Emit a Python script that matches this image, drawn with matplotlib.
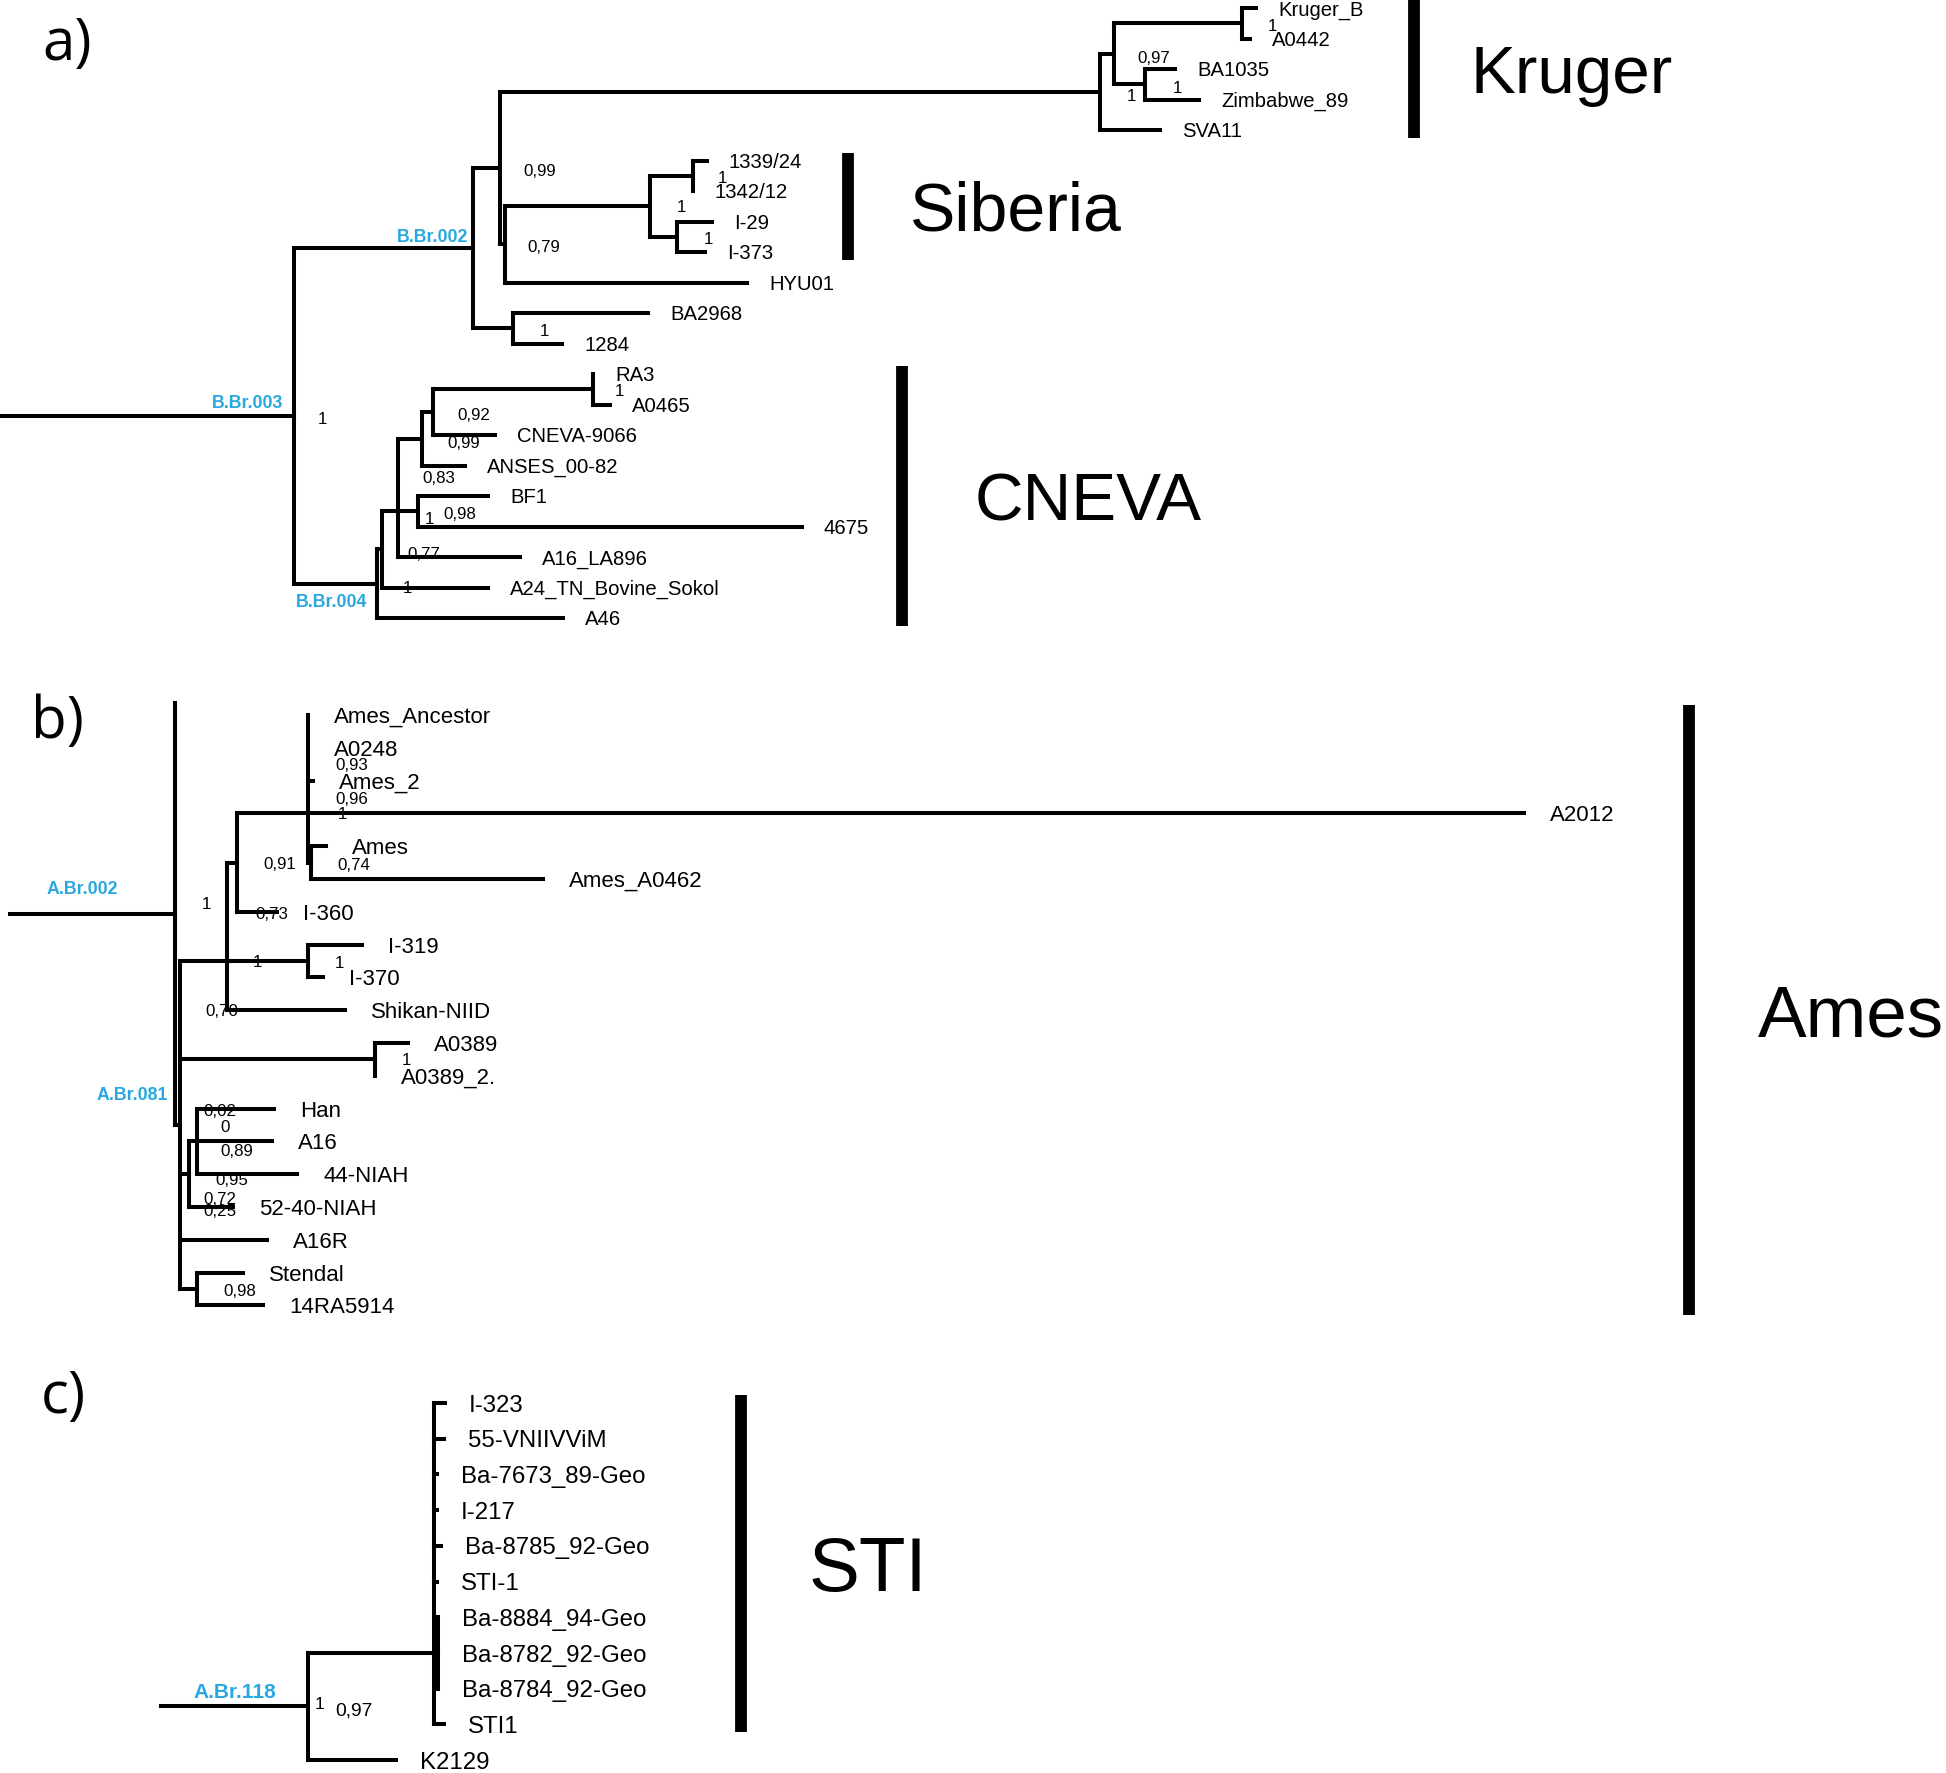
import matplotlib
matplotlib.use("Agg")
import matplotlib.pyplot as plt
from matplotlib.collections import LineCollection

W, H, DPI = 1946, 1773, 100
FONT = "Liberation Sans"
BLUE = "#29a8e0"

# ---------------- Panel a data ----------------
A_LEAVES = ["Kruger_B", "A0442", "BA1035", "Zimbabwe_89", "SVA11",
            "1339/24", "1342/12", "I-29", "I-373", "HYU01", "BA2968", "1284",
            "RA3", "A0465", "CNEVA-9066", "ANSES_00-82", "BF1", "4675",
            "A16_LA896", "A24_TN_Bovine_Sokol", "A46"]
A_ROWS = list(range(21))
A_TIP_X = [1256, 1250, 1175, 1199, 1160, 707, 693, 712, 705, 747, 648, 562,
           593, 610, 495, 465, 488, 802, 520, 488, 563]
# internal nodes: (name, depth, children, attach-child or None)
A_NODES = [
    ("B.Br.003", 294, ["B.Br.002", "B.Br.004"], None),
    ("B.Br.002", 473, ["n099", "nBA"], None),
    ("n099", 500, ["nKr", "n079"], None),
    ("nKr", 1100, ["nKr2", "SVA11"], None),
    ("nKr2", 1114, ["nKB", "nBZ"], None),
    ("nKB", 1242, ["Kruger_B", "A0442"], None),
    ("nBZ", 1145, ["BA1035", "Zimbabwe_89"], None),
    ("n079", 505, ["nSib", "HYU01"], None),
    ("nSib", 650, ["nS1", "nS2"], None),
    ("nS1", 693, ["1339/24", "1342/12"], None),
    ("nS2", 677, ["I-29", "I-373"], None),
    ("nBA", 513, ["BA2968", "1284"], None),
    ("B.Br.004", 377, ["nX", "A46"], None),
    ("nX", 382, ["nY", "A24_TN_Bovine_Sokol"], None),
    ("nY", 398, ["nZ", "nW", "A16_LA896"], "nW"),
    ("nZ", 422, ["nV", "ANSES_00-82"], None),
    ("nV", 433, ["nRA", "CNEVA-9066"], None),
    ("nRA", 593, ["RA3", "A0465"], None),
    ("nW", 418, ["BF1", "4675"], None),
]
A_ROOT, A_STEM_X = "B.Br.003", 0
A_SUP_NODES = ["nKB", "nKr2", "nKr", "nBZ", "n099", "n079", "nS1", "nSib", "nS2",
               "nBA", "B.Br.003", "nRA", "nV", "nZ", "nZ", "nW", "nW", "nY", "nX"]
A_SUP_VALUES = ["1", "0,97", "1", "1", "0,99", "0,79", "1", "1", "1",
                "1", "1", "1", "0,92", "0,99", "0,83", "1", "0,98", "0,77", "1"]
A_SUP_OFFSETS = [(26, 2), (23, 3), (27, 3), (28, 3), (23, 2), (22, 2), (25, 1), (27, 0), (27, 1),
                 (27, 2), (24, 2), (22, 1), (24, 2), (25, 3), (0, 38), (7, 7), (25, 2), (9, 42), (21, 38)]
A_BRANCH_LABELS = ["B.Br.003", "B.Br.002", "B.Br.004"]
A_BRANCH_OFFSETS = [(-11, -14), (-5, -13), (-10, 17)]
A_CLADES = ["Kruger", "Siberia", "CNEVA"]
A_CLADE_SPAN = [("Kruger_B", "SVA11"), ("1339/24", "I-373"), ("RA3", "A46")]
A_CLADE_BAR_X = [1414, 848, 902]
A_CLADE_TEXT_X = [1471, 910, 975]
A_CLADE_SIZE = [48.5, 49, 48.5]

# ---------------- Panel b data ----------------
B_LEAVES = ["_stub", "Ames_Ancestor", "A0248", "Ames_2", "A2012", "Ames", "Ames_A0462",
            "I-360", "I-319", "I-370", "Shikan-NIID", "A0389", "A0389_2.", "Han", "A16",
            "44-NIAH", "52-40-NIAH", "A16R", "Stendal", "14RA5914"]
B_ROWS = [-0.37] + list(range(19))
B_TIP_X = [175, 308, 308, 313, 1524, 326, 543, 277, 362, 323, 345, 408, 375, 274, 272,
           297, 233, 267, 243, 263]
B_NODES = [
    ("A.Br.002", 175, ["_stub", "A.Br.081"], None),
    ("A.Br.081", 180, ["nT", "nA389", "nS", "A16R", "nSt"], None),
    ("nT", 227, ["nP", "nI319", "Shikan-NIID"], "nI319"),
    ("nP", 237, ["nQ", "I-360"], None),
    ("nQ", 308, ["Ames_Ancestor", "A0248", "Ames_2", "A2012", "nR"], "A2012"),
    ("nR", 311, ["Ames", "Ames_A0462"], None),
    ("nI319", 308, ["I-319", "I-370"], None),
    ("nA389", 375, ["A0389", "A0389_2."], None),
    ("nS", 189, ["nH", "52-40-NIAH"], None),
    ("nH", 197, ["Han", "A16", "44-NIAH"], None),
    ("nSt", 197, ["Stendal", "14RA5914"], None),
]
B_ROOT, B_STEM_X = "A.Br.002", 10
B_SUP_NODES = ["nQ", "nQ", "nQ", "nR", "nP", "nP", "A.Br.002", "nT", "nI319", "nT",
               "nA389", "nH", "nH", "nH", "nH", "nS", "nS", "nSt"]
B_SUP_VALUES = ["0,93", "0,96", "1", "0,74", "0,91", "0,73", "1", "1", "1", "0,70",
                "1", "0,02", "0", "0,89", "0,95", "0,72", "0,25", "0,98"]
B_SUP_OFFSETS = [(27, -49), (27, -15), (30, 0), (26, 1), (26, 0), (18, 50), (27, -11), (26, 0),
                 (27, 1), (-22, 49), (27, 0), (6, -31), (23, -15), (23, 9), (18, 38), (14, 24),
                 (14, 36), (26, 1)]
B_BRANCH_LABELS = ["A.Br.002", "A.Br.081"]
B_BRANCH_OFFSETS = [(-57, -26), (-12, -31)]
B_CLADES = ["Ames"]
B_CLADE_SPAN = [("Ames_Ancestor", "14RA5914")]
B_CLADE_BAR_X = [1689]
B_CLADE_TEXT_X = [1758]
B_CLADE_SIZE = [52.5]

# ---------------- Panel c data ----------------
C_LEAVES = ["I-323", "55-VNIIVViM", "Ba-7673_89-Geo", "I-217", "Ba-8785_92-Geo", "STI-1",
            "Ba-8884_94-Geo", "Ba-8782_92-Geo", "Ba-8784_92-Geo", "STI1", "K2129"]
C_ROWS = list(range(11))
C_TIP_X = [445, 444, 437, 437, 441, 437, 438, 438, 438, 444, 396]
C_NODES = [
    ("A.Br.118", 308, ["nSTI", "K2129"], None),
    ("nSTI", 434, ["I-323", "55-VNIIVViM", "Ba-7673_89-Geo", "I-217", "Ba-8785_92-Geo",
                   "STI-1", "nIn", "STI1"], "nIn"),
    ("nIn", 438, ["Ba-8884_94-Geo", "Ba-8782_92-Geo", "Ba-8784_92-Geo"], None),
]
C_ROOT, C_STEM_X = "A.Br.118", 161
C_SUP_NODES = ["A.Br.118", "A.Br.118"]
C_SUP_VALUES = ["1", "0,97"]
C_SUP_OFFSETS = [(7, -4), (27, 2)]
C_BRANCH_LABELS = ["A.Br.118"]
C_BRANCH_OFFSETS = [(-32, -16)]
C_CLADES = ["STI"]
C_CLADE_SPAN = [("I-323", "STI1")]
C_CLADE_BAR_X = [741]
C_CLADE_TEXT_X = [809]
C_CLADE_SIZE = [55]

PANEL_LETTERS = ["a)", "b)", "c)"]


def px(size):
    return size * DPI / 72.0


def ctext(ax, x, y, s, size, ha="left", **kw):
    """Place text so that its cap-height centre sits at y."""
    kw.setdefault("family", FONT)
    ax.text(x, y + 0.716 * px(size) / 2, s, fontsize=size, ha=ha, va="baseline", **kw)


def layout(leaves, rows, tips, nodes, y0, dy):
    pos = {}
    for name, r, t in zip(leaves, rows, tips):
        pos[name] = (t, y0 + dy * r)
    nd = {n[0]: n for n in nodes}

    def yc(name):
        if name in pos:
            return pos[name][1]
        _, x, ch, att = nd[name]
        ys = [yc(c) for c in ch]
        y = (min(ys) + max(ys)) / 2 if att is None else ys[ch.index(att)]
        pos[name] = (x, y)
        return y

    for n in nodes:
        yc(n[0])
    return pos


def draw_panel(ax, leaves, rows, tips, nodes, root, stem_x, y0, dy, label_dx, label_size,
               sup_nodes, sup_vals, sup_offs, sup_sizes, br_labels, br_offs, br_size,
               clades, spans, bar_x, text_x, clade_size, bar_pad=8, lw=2.9):
    pos = layout(leaves, rows, tips, nodes, y0, dy)
    segs = []
    for name, x, ch, att in nodes:
        ys = [pos[c][1] for c in ch]
        segs.append([(x, min(ys)), (x, max(ys))])
        for c in ch:
            cx, cy = pos[c]
            if cx - x > 0.5:
                segs.append([(x, cy), (cx, cy)])
    rx, ry = pos[root]
    segs.append([(stem_x, ry), (rx, ry)])
    ax.add_collection(LineCollection(segs, colors="black", linewidths=lw,
                                     capstyle="projecting", joinstyle="miter"))
    for name in leaves:
        if name.startswith("_"):
            continue
        x, y = pos[name]
        ctext(ax, x + label_dx, y, name, label_size)
    for n, v, (ox, oy), s in zip(sup_nodes, sup_vals, sup_offs, sup_sizes):
        x, y = pos[n]
        ctext(ax, x + ox, y + oy, v, s)
    for n, (ox, oy) in zip(br_labels, br_offs):
        x, y = pos[n]
        ctext(ax, x + ox, y + oy, n, br_size, ha="right", color=BLUE, fontweight="bold")
    for name, (a, b), bx, tx, cs in zip(clades, spans, bar_x, text_x, clade_size):
        ya, yb = pos[a][1], pos[b][1]
        ax.plot([bx, bx], [ya - bar_pad, yb + bar_pad], color="black", lw=8.5,
                solid_capstyle="butt")
        ctext(ax, tx, (ya + yb) / 2, name, cs)


fig = plt.figure(figsize=(W / DPI, H / DPI), dpi=DPI)
ax = fig.add_axes([0, 0, 1, 1])
ax.set_xlim(0, W)
ax.set_ylim(H, 0)
ax.axis("off")

draw_panel(ax, A_LEAVES, A_ROWS, A_TIP_X, A_NODES, A_ROOT, A_STEM_X, 8, 30.5, 22, 14.6,
           A_SUP_NODES, A_SUP_VALUES, A_SUP_OFFSETS, [12.2] * len(A_SUP_NODES),
           A_BRANCH_LABELS, A_BRANCH_OFFSETS, 12.8,
           A_CLADES, A_CLADE_SPAN, A_CLADE_BAR_X, A_CLADE_TEXT_X, A_CLADE_SIZE)
draw_panel(ax, B_LEAVES, B_ROWS, B_TIP_X, B_NODES, B_ROOT, B_STEM_X, 715, 32.8, 26, 16,
           B_SUP_NODES, B_SUP_VALUES, B_SUP_OFFSETS, [12.2] * len(B_SUP_NODES),
           B_BRANCH_LABELS, B_BRANCH_OFFSETS, 12.8,
           B_CLADES, B_CLADE_SPAN, B_CLADE_BAR_X, B_CLADE_TEXT_X, B_CLADE_SIZE, bar_pad=10)
draw_panel(ax, C_LEAVES, C_ROWS, C_TIP_X, C_NODES, C_ROOT, C_STEM_X, 1403, 35.7, 24, 17.3,
           C_SUP_NODES, C_SUP_VALUES, C_SUP_OFFSETS, [12.5, 13.9],
           C_BRANCH_LABELS, C_BRANCH_OFFSETS, 15,
           C_CLADES, C_CLADE_SPAN, C_CLADE_BAR_X, C_CLADE_TEXT_X, C_CLADE_SIZE)

for lab, (lx, ly) in zip(PANEL_LETTERS, [(42, 60), (31, 738), (41, 1413)]):
    ax.text(lx, ly, lab, fontsize=42, family="Open Sans", ha="left", va="baseline")

fig.savefig("out.png", dpi=DPI)
